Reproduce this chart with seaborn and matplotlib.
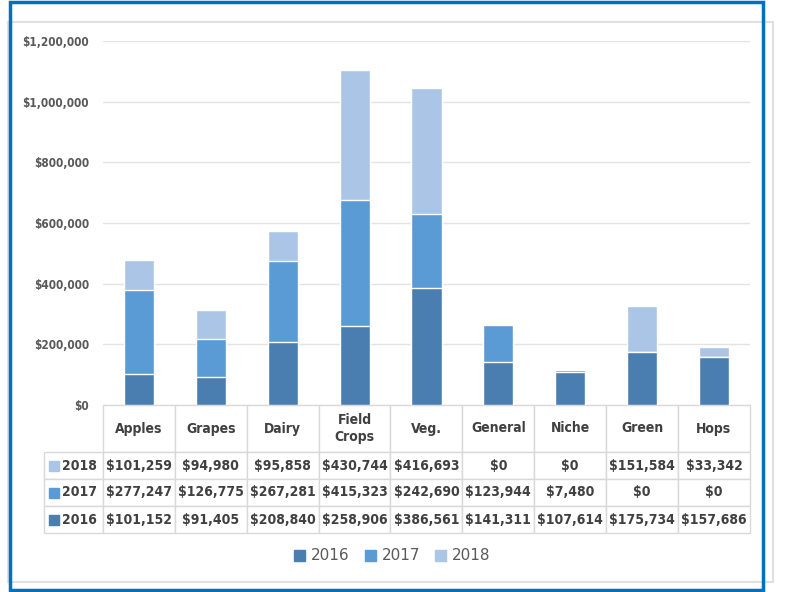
import numpy as np
import pandas as pd
import matplotlib
matplotlib.use("Agg")
import matplotlib.pyplot as plt
import matplotlib.ticker as ticker
import seaborn as sns
from matplotlib.patches import Rectangle

categories = ["Apples", "Grapes", "Dairy", "Field\nCrops", "Veg.", "General", "Niche", "Green", "Hops"]
years = ["2016", "2017", "2018"]
v2016 = [101152, 91405, 208840, 258906, 386561, 141311, 107614, 175734, 157686]
v2017 = [277247, 126775, 267281, 415323, 242690, 123944, 7480, 0, 0]
v2018 = [101259, 94980, 95858, 430744, 416693, 0, 0, 151584, 33342]
colors = {"2016": "#4a7eb0", "2017": "#5b9bd5", "2018": "#abc5e6"}

df = pd.DataFrame({"cat": categories, "2016": v2016, "2017": v2017, "2018": v2018})
df["c2017"] = df["2016"] + df["2017"]
df["c2018"] = df["c2017"] + df["2018"]

sns.set_style("white")
fam = "DejaVu Sans"

W, H = 785, 592
ax_l, ax_r, ax_t, ax_b = 103, 750, 41, 405
aw, ah = ax_r - ax_l, ax_b - ax_t

fig = plt.figure(figsize=(7.85, 5.92), dpi=100)
ax = fig.add_axes([ax_l / W, 1 - ax_b / H, aw / W, ah / H])

# stacked look: draw cumulative totals from the top layer down
for col, yr in [("c2018", "2018"), ("c2017", "2017"), ("2016", "2016")]:
    sns.barplot(data=df, x="cat", y=col, color=colors[yr], width=0.42,
                saturation=1, ax=ax, order=categories)

ax.set_ylim(0, 1200000)
ax.set_xlim(-0.5, len(categories) - 0.5)
ax.yaxis.set_major_locator(ticker.MultipleLocator(200000))
ax.yaxis.set_major_formatter(ticker.FuncFormatter(lambda x, _: f"${x:,.0f}"))
ax.grid(axis="y", color="#e3e3e3", linewidth=1)
ax.set_axisbelow(True)
for s in ax.spines.values():
    s.set_visible(False)
ax.set_xlabel("")
ax.set_ylabel("")
ax.set_xticks([])
ax.tick_params(axis="y", length=0, pad=10)
for lab in ax.get_yticklabels():
    lab.set_family(fam)
    lab.set_stretch("condensed")
    lab.set_fontsize(8.5)
    lab.set_fontweight("bold")
    lab.set_color("#595959")

# data table under the bars
cell_text = []
row_vals = [v2018, v2017, v2016]
for vals in row_vals:
    cell_text.append([f"${v:,.0f}" for v in vals])
row_labels = ["2018", "2017", "2016"]
lab_w = 59
tbl = ax.table(cellText=cell_text, rowLabels=row_labels, colLabels=categories,
               cellLoc="center", rowLoc="right",
               bbox=[0, -128 / ah, 1, 128 / ah])
tbl.auto_set_font_size(False)
# keep the label column at a fixed width
tbl._autoColumns = [c for c in tbl._autoColumns if c != -1]
for (r, c), cell in tbl.get_celld().items():
    cell.set_edgecolor("#d9d9d9")
    cell.set_linewidth(1)
    cell.set_height((47 if r == 0 else 27) / ah)
    cell.set_width((lab_w if c == -1 else 72) / aw)
    t = cell.get_text()
    t.set_family(fam)
    t.set_stretch("condensed")
    t.set_color("#404040")
    t.set_fontweight("bold")
    if r == 0:
        t.set_fontsize(10)
        t.set_linespacing(1.3)
    else:
        t.set_fontsize(10)

# colour keys in the row labels
row_y = [465.5, 493, 520]
for yr, yy in zip(["2018", "2017", "2016"], row_y):
    fig.patches.append(Rectangle((49 / W, 1 - (yy + 5) / H), 10 / W, 10 / H,
                                 transform=fig.transFigure, color=colors[yr]))

# legend
handles = [Rectangle((0, 0), 1, 1, color=colors[y]) for y in years]
fig.legend(handles, years, loc="center", bbox_to_anchor=(0.5, 1 - 556 / H), ncol=3,
           frameon=False, handlelength=0.7, handleheight=0.7, columnspacing=1.0,
           handletextpad=0.4, prop={"family": "DejaVu Sans", "size": 11},
           labelcolor="#595959")

# frames
fig.patches.append(Rectangle((8 / W, 1 - 582 / H), 765 / W, 560 / H,
                             transform=fig.transFigure, fill=False, edgecolor="#e0e0e0", linewidth=1.5))
fig.patches.append(Rectangle((10 / W, 1 - 590 / H), 753 / W, 588 / H,
                             transform=fig.transFigure, fill=False, edgecolor="#0070c0", linewidth=2.5))

fig.savefig("out.png", dpi=100)
